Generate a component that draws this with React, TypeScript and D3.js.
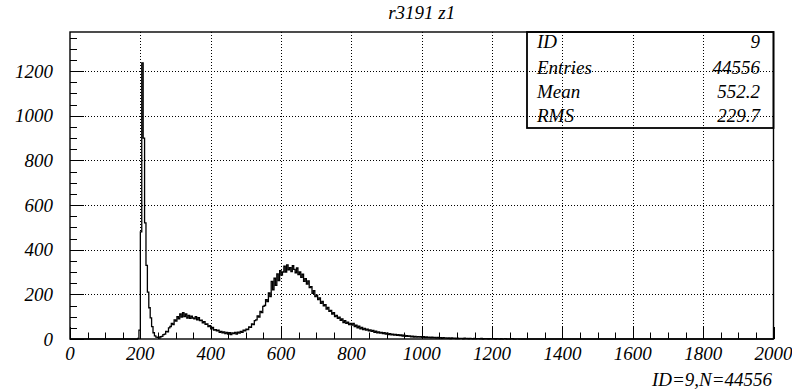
import React from 'react';
import * as d3 from 'd3';

// histogram ID=9, 4-unit bins starting at 188
const title = 'r3191 z1';
const footer = 'ID=9,N=44556';
const statLabels = ['ID', 'Entries', 'Mean', 'RMS'];
const statValues = ['9', '44556', '552.2', '229.7'];
const xTicks = [0, 200, 400, 600, 800, 1000, 1200, 1400, 1600, 1800, 2000];
const yTicks = [0, 200, 400, 600, 800, 1000, 1200];

const binStart = 188;
const binWidth = 4;

// 188 .. 244
const peakCounts = [0, 3, 40, 480, 1237, 900, 520, 330, 210, 140, 95, 55, 28, 14, 8];
// 248 .. 496
const lowBumpCounts = [
  7, 4, 10, 12, 20, 22, 34, 32, 50, 56, 70, 64, 86, 80, 100, 90, 112, 98, 118, 100, 112, 94, 106, 92, 102,
  94, 90, 100, 86, 96, 82, 84, 72, 78, 66, 68, 56, 60, 46, 52, 40, 42, 36, 40, 30, 34, 28, 32, 24, 30,
  22, 28, 20, 27, 24, 30, 22, 31, 26, 34, 30, 40, 36,
];
// 500 .. 796
const mainCounts = [
  44, 42, 54, 52, 68, 64, 82, 86, 104, 98, 124, 118, 146, 150, 176, 168, 206, 190, 258, 220, 272, 240, 292, 262, 306,
  286, 300, 326, 300, 332, 310, 320, 302, 328, 312, 296, 318, 288, 300, 276, 290, 258, 270, 246, 260, 230, 234, 204, 216, 190,
  196, 176, 184, 160, 168, 148, 154, 134, 142, 124, 128, 112, 118, 100, 106, 92, 98, 84, 90, 74, 82, 70, 76, 64, 70,
];
// 800 .. 1496
const tailCounts = [
  62, 70, 56, 62, 50, 58, 46, 52, 42, 48, 40, 44, 36, 41, 34, 38, 30, 35, 28, 32, 26, 30, 24, 28, 22,
  26, 20, 24, 19, 22, 17, 21, 16, 19, 15, 18, 13, 17, 12, 15, 12, 14, 10, 13, 9, 12, 8, 11, 8, 10,
  7, 10, 6, 9, 6, 8, 5, 8, 5, 7, 4, 7, 4, 6, 3, 6, 4, 5, 3, 5, 2, 5, 3, 4, 2,
  4, 2, 3, 3, 1, 4, 2, 3, 1, 3, 2, 1, 3, 1, 2, 2, 1, 3, 0, 2, 1, 2, 0, 2, 1,
  1, 2, 0, 2, 1, 0, 2, 0, 1, 2, 0, 1, 0, 1, 2, 0, 0, 1, 1, 0, 1, 0, 0, 1, 0,
  1, 0, 0, 0, 0, 1, 0, 0, 0, 1, 0, 0, 1, 0, 0, 0, 0, 0, 0, 1, 0, 0, 0, 0, 0,
  0, 0, 0, 0, 0, 0, 1, 0, 0, 0, 0, 0, 0, 0, 0, 0, 0, 0, 0, 0, 0, 0, 0, 0, 0,
];

const counts = [...peakCounts, ...lowBumpCounts, ...mainCounts, ...tailCounts];

const W = 792;
const H = 391;
const left = 70, right = 773.5, top = 32, bottom = 339;

export default function App() {
  const x = d3.scaleLinear().domain([0, 2000]).range([left, right]);
  const y = d3.scaleLinear().domain([0, 1375]).range([bottom, top]);

  const pts: [number, number][] = [[0, 0]];
  counts.forEach((c, i) => pts.push([binStart + i * binWidth, c]));
  pts.push([binStart + counts.length * binWidth, 0]);
  pts.push([2000, 0]);
  const line = d3.line<[number, number]>()
    .x(d => x(d[0]))
    .y(d => y(d[1]))
    .curve(d3.curveStepAfter);

  const xMinor = d3.range(0, 2001, 50).filter(v => v % 200 !== 0);
  const yMinor = d3.range(0, 1375, 50).filter(v => v % 200 !== 0);
  const px = (v: number) => Math.round(x(v)) + 0.5;
  const py = (v: number) => Math.round(y(v)) + 0.5;

  const boxL = 527, boxT = top, boxB = 128;
  const rowBase = [48, 74, 98, 122];
  const txt = { fontFamily: "'Times New Roman', 'Liberation Serif', serif", fontStyle: 'italic' as const };

  return (
    <svg width={W} height={H} style={{ position: 'absolute', left: 0, top: 0, background: '#fff' }}>
      <rect x={0} y={0} width={W} height={H} fill="#fff" />
      {/* grid */}
      <g stroke="#000" strokeWidth={1} strokeDasharray="1,2">
        {xTicks.slice(1, -1).map(v => (
          <line key={'gx' + v} x1={px(v)} x2={px(v)} y1={top} y2={bottom} />
        ))}
        {yTicks.slice(1).map(v => (
          <line key={'gy' + v} x1={left} x2={right} y1={py(v)} y2={py(v)} />
        ))}
      </g>
      {/* ticks */}
      <g stroke="#000" strokeWidth={1}>
        {xTicks.map(v => (
          <line key={'tx' + v} x1={px(v)} x2={px(v)} y1={bottom} y2={bottom - 12} />
        ))}
        {xMinor.map(v => (
          <line key={'mx' + v} x1={px(v)} x2={px(v)} y1={bottom} y2={bottom - 6.5} />
        ))}
        {yTicks.map(v => (
          <line key={'ty' + v} x1={left} x2={left + 14} y1={py(v)} y2={py(v)} />
        ))}
        {yMinor.map(v => (
          <line key={'my' + v} x1={left} x2={left + 7} y1={py(v)} y2={py(v)} />
        ))}
      </g>
      {/* histogram */}
      <path d={line(pts) || ''} fill="none" stroke="#000" strokeWidth={1.3} />
      {/* frame */}
      <rect x={left} y={top} width={right - left} height={bottom - top} fill="none" stroke="#000" strokeWidth={1.4} />
      {/* stats box */}
      <rect x={boxL} y={boxT} width={right - boxL} height={boxB - boxT} fill="none" stroke="#000" strokeWidth={1.8} />
      <g fontSize={19} fill="#000" style={txt}>
        {statLabels.map((s, i) => (
          <text key={s} x={boxL + 10} y={rowBase[i]}>{s}</text>
        ))}
        {statValues.map((s, i) => (
          <text key={'v' + i} x={760} y={rowBase[i]} textAnchor="end">{s}</text>
        ))}
      </g>
      {/* axis labels */}
      <g fontSize={19} fill="#000" style={txt}>
        {xTicks.map(v => (
          <text key={'lx' + v} x={x(v)} y={360} textAnchor="middle">{v}</text>
        ))}
        {yTicks.map(v => (
          <text key={'ly' + v} x={53} y={y(v) + 6.5} textAnchor="end">{v}</text>
        ))}
        <text x={(left + right) / 2} y={19} textAnchor="middle">{title}</text>
        <text x={772} y={386} textAnchor="end">{footer}</text>
      </g>
    </svg>
  );
}
